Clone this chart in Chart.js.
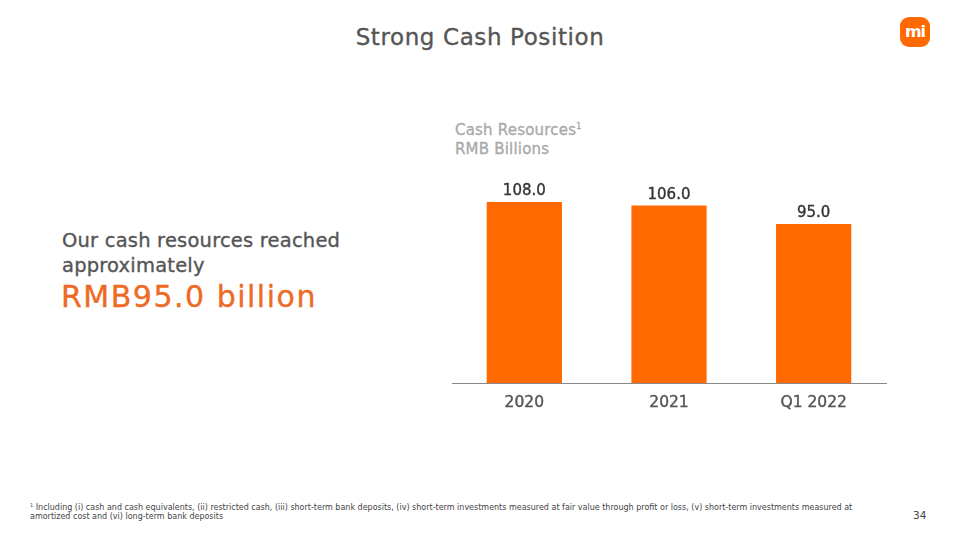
<!DOCTYPE html>
<html>
<head>
<meta charset="utf-8">
<script src="https://cdn.jsdelivr.net/npm/chart.js@4"></script>
<style>
  body { margin: 0; width: 960px; height: 540px; background: #fff; position: relative; overflow: hidden; font-family: "DejaVu Sans", sans-serif; }
  .abs { position: absolute; white-space: nowrap; }
  .med { -webkit-text-stroke: 0.35px currentColor; }
  #title { left: 0; width: 960px; top: 24px; text-align: center; font-size: 23px; letter-spacing: 0.6px; color: #555; }
  #logo { left: 900px; top: 17px; width: 30px; height: 30px; border-radius: 9px; background: #FF6900; color: #fff; font: bold 16px "DejaVu Sans", sans-serif; text-align: center; line-height: 29px; letter-spacing: -1px; }
  #lead { left: 62px; top: 228px; font-size: 19.5px; letter-spacing: 0.2px; line-height: 25px; color: #555; }
  #big { left: 61px; top: 279px; font-size: 30px; letter-spacing: 1.5px; color: #EE6A24; }
  #unit { left: 455px; top: 117px; font-size: 15px; letter-spacing: 0.2px; line-height: 19px; color: #aaa; }
  #unit sup { font-size: 8px; vertical-align: 6px; }
  #note { left: 30px; top: 501px; font-size: 8px; line-height: 9.3px; color: #444; }
  #note sup { font-size: 5px; vertical-align: 3px; }
  #page { left: 913px; top: 509px; font-size: 10.5px; color: #444; }
  #wrap { position: absolute; left: 440px; top: 170px; width: 460px; height: 250px; }
</style>
</head>
<body>
<div id="title" class="abs med">Strong Cash Position</div>
<div id="logo" class="abs">mi</div>
<div id="lead" class="abs med">Our cash resources reached<br>approximately</div>
<div id="big" class="abs med">RMB95.0 billion</div>
<div id="unit" class="abs med">Cash Resources<sup>1</sup><br>RMB Billions</div>
<div id="wrap"><canvas id="cashChart"></canvas></div>
<div id="note" class="abs"><sup>1</sup> Including (i) cash and cash equivalents, (ii) restricted cash, (iii) short-term bank deposits, (iv) short-term investments measured at fair value through profit or loss, (v) short-term investments measured at<br>amortized cost and (vi) long-term bank deposits</div>
<div id="page" class="abs">34</div>

<script>
// ข้อมูลกราฟ
const periods = ['2020', '2021', 'Q1 2022'];
const cashResources = [108.0, 106.0, 95.0];

// วาดตัวเลขบนแท่ง
const barValueLabels = {
    id: 'barValueLabels',
    afterDatasetsDraw(chart) {
        const ctx = chart.ctx;
        const meta = chart.getDatasetMeta(0);
        ctx.save();
        ctx.font = '15px "DejaVu Sans", sans-serif';
        ctx.fillStyle = '#333';
        ctx.strokeStyle = '#333';
        ctx.lineWidth = 0.35;
        ctx.textAlign = 'center';
        ctx.textBaseline = 'bottom';
        meta.data.forEach((bar, i) => {
            const txt = cashResources[i].toFixed(1);
            ctx.fillText(txt, bar.x, bar.y - 3);
            ctx.strokeText(txt, bar.x, bar.y - 3);
        });
        ctx.restore();
    }
};

const ctx = document.getElementById('cashChart').getContext('2d');
new Chart(ctx, {
    type: 'bar',
    data: {
        labels: periods,
        datasets: [{
            data: cashResources,
            backgroundColor: '#FF6900',
            barPercentage: 0.52,
            categoryPercentage: 1.0
        }]
    },
    options: {
        responsive: true,
        maintainAspectRatio: false,
        animation: false,
        layout: { padding: { left: 12, right: 14, top: 12, bottom: 0 } },
        plugins: {
            legend: { display: false },
            tooltip: { enabled: false }
        },
        scales: {
            x: {
                grid: { display: false, drawTicks: false },
                border: { display: true, color: '#888', width: 1 },
                ticks: {
                    color: '#555',
                    padding: 11,
                    textStrokeColor: '#555',
                    textStrokeWidth: 0.4,
                    font: { family: '"DejaVu Sans", sans-serif', size: 15.5 }
                },
                afterFit(scale) { scale.height = 37; }
            },
            y: {
                display: false,
                min: 0,
                max: 120
            }
        }
    },
    plugins: [barValueLabels]
});
</script>
</body>
</html>
